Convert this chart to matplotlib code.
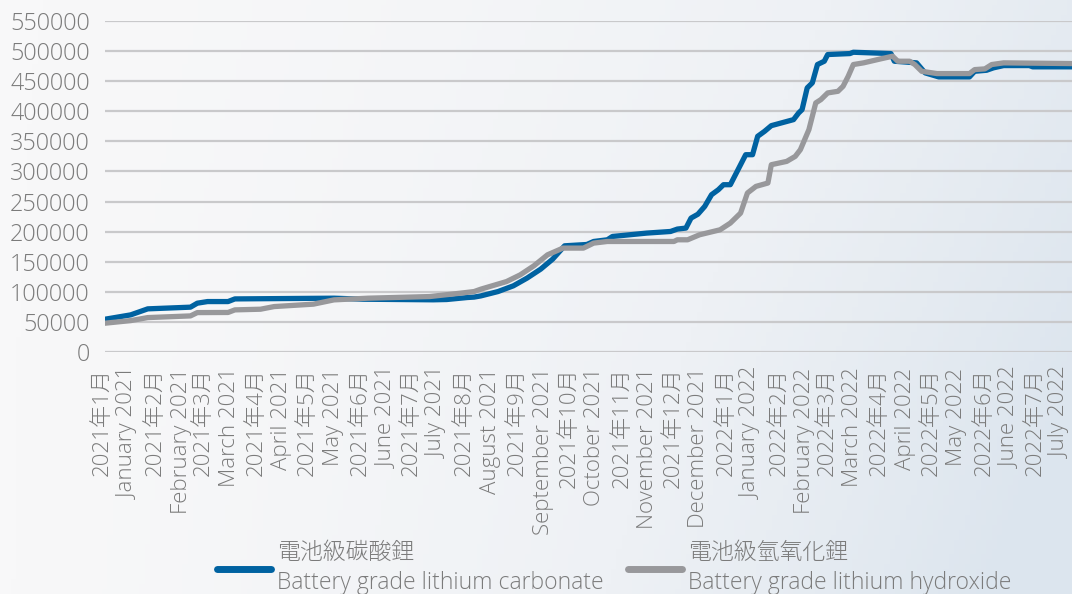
"""
lithium price chart, carbonate vs hydroxide
"""

import numpy as np
import pandas as pd
import matplotlib
matplotlib.use("Agg")
import matplotlib.pyplot as plt
from matplotlib.colors import LinearSegmentedColormap

# light Latin face, light CJK face (the JP light cut carries the traditional glyphs too)
plt.rcParams["font.family"] = ["Open Sans", "Noto Sans CJK JP", "DejaVu Sans"]
plt.rcParams["font.weight"] = "light"
GREY_TXT = "#7b7b7b"

# days counted from 2021-01-01
carb_day = [-6, 9, 19, 44, 48, 54, 66, 70, 128, 145, 186, 194, 206, 210, 214,
            224, 233, 241, 249, 256, 263, 276, 280, 288, 291, 311, 325, 329, 334,
            337, 341, 345, 349, 353, 356, 360, 364, 369, 373, 376, 380, 384, 397,
            400, 402, 405, 408, 411, 415, 417, 430, 432, 454, 456, 469, 474, 482,
            500, 503, 510, 514, 520, 535, 537, 560]
carb_price = [54800, 62000, 72000, 74800, 81400, 84100, 84100, 88500, 89700, 88000,
              87000, 87500, 90800, 91500, 93500, 100700, 110200, 123000, 137900,
              154500, 176600, 178800, 183800, 186600, 192100, 197700, 200400, 204400,
              206000, 222600, 229000, 241900, 261400, 269700, 278000, 278000, 300100,
              327800, 327800, 358300, 366500, 376000, 386000, 397100, 402600, 438700,
              447000, 477400, 482900, 494000, 495600, 497800, 495600, 482900, 480200,
              463600, 456900, 456900, 466200, 467900, 471900, 475700, 475700, 473600,
              473600]

hydr_day = [-6, 9, 19, 44, 48, 66, 70, 85, 93, 116, 128, 148, 184, 202, 210, 214,
            229, 237, 245, 253, 262, 274, 280, 288, 327, 329, 335, 342, 354, 360,
            366, 370, 375, 382, 384, 393, 398, 401, 406, 410, 413, 417, 423, 426,
            429, 432, 438, 448, 455, 458, 465, 468, 472, 481, 500, 503, 509, 513,
            520, 560]
hydr_price = [48200, 52500, 57500, 60300, 65800, 66000, 70300, 71400, 75800, 79800,
              86900, 89700, 92400, 98000, 100700, 104700, 117300, 128400, 143400,
              161700, 172800, 172800, 181100, 183800, 183800, 186600, 186600, 194900,
              203200, 214300, 230900, 264200, 275200, 280800, 311200, 316700, 325000,
              336100, 369400, 413700, 419200, 430300, 433000, 441300, 457900, 477400,
              480200, 486800, 491200, 482900, 482900, 477400, 466200, 462400, 462400,
              469000, 470200, 477400, 480200, 479000]

months = pd.date_range("2021-01-01", "2022-07-01", freq="MS")
month_day = [(m - months[0]).days for m in months]
month_labels = [f"{m.year}年{m.month}月\n{m.strftime('%B')} {m.year}" for m in months]

series_names = ["電池級碳酸鋰\nBattery grade lithium carbonate",
                "電池級氫氧化鋰\nBattery grade lithium hydroxide"]

fig = plt.figure(figsize=(10.72, 5.94), dpi=100)

# soft background gradient, white on the left to pale blue-grey at bottom right
bg = fig.add_axes([0, 0, 1, 1], zorder=-10)
gx, gy = np.meshgrid(np.linspace(0, 1, 200), np.linspace(0, 1, 120))
grad = np.clip(0.75 * gx ** 1.6 + 0.35 * gy * gx, 0, 1)
cmap = LinearSegmentedColormap.from_list("bg", ["#f8f8f9", "#eef1f5", "#dce5ee"])
bg.imshow(grad, cmap=cmap, aspect="auto", extent=[0, 1, 0, 1], origin="upper")
bg.axis("off")

ax = fig.add_axes([0.098, 0.407, 0.902, 0.558])
ax.set_facecolor("none")

ax.plot(carb_day, carb_price, color="#0062a1", lw=3.8,
        solid_joinstyle="round", solid_capstyle="round", label=series_names[0], zorder=3)
ax.plot(hydr_day, hydr_price, color="#98989b", lw=3.8,
        solid_joinstyle="round", solid_capstyle="round", label=series_names[1], zorder=4)

ax.set_ylim(0, 550000)
ax.set_xlim(-6, 560)
ax.set_yticks(np.arange(0, 550001, 50000))
ax.yaxis.grid(True, color="#c9c9cb", lw=1.6)
ax.set_axisbelow(True)
for s in ax.spines.values():
    s.set_visible(False)
ax.tick_params(axis="y", length=0, pad=11, labelsize=16.8, labelcolor=GREY_TXT)

ax.set_xticks(month_day)
ax.set_xticklabels(month_labels, rotation=90, ha="center", va="top",
                   multialignment="right", linespacing=1.3)
ax.tick_params(axis="x", length=0, pad=11, labelsize=16, labelcolor=GREY_TXT)

leg = fig.legend(loc="center", bbox_to_anchor=(0.573, 0.044), ncol=2, frameon=False,
                 fontsize=16.5, labelcolor=GREY_TXT, handlelength=2.35,
                 handletextpad=0.26, columnspacing=1.1)
for t in leg.get_texts():
    t.set_linespacing(1.35)
for h in leg.legend_handles:
    h.set_linewidth(5)
    h.set_solid_capstyle("round")

fig.savefig("out.png", dpi=100)
